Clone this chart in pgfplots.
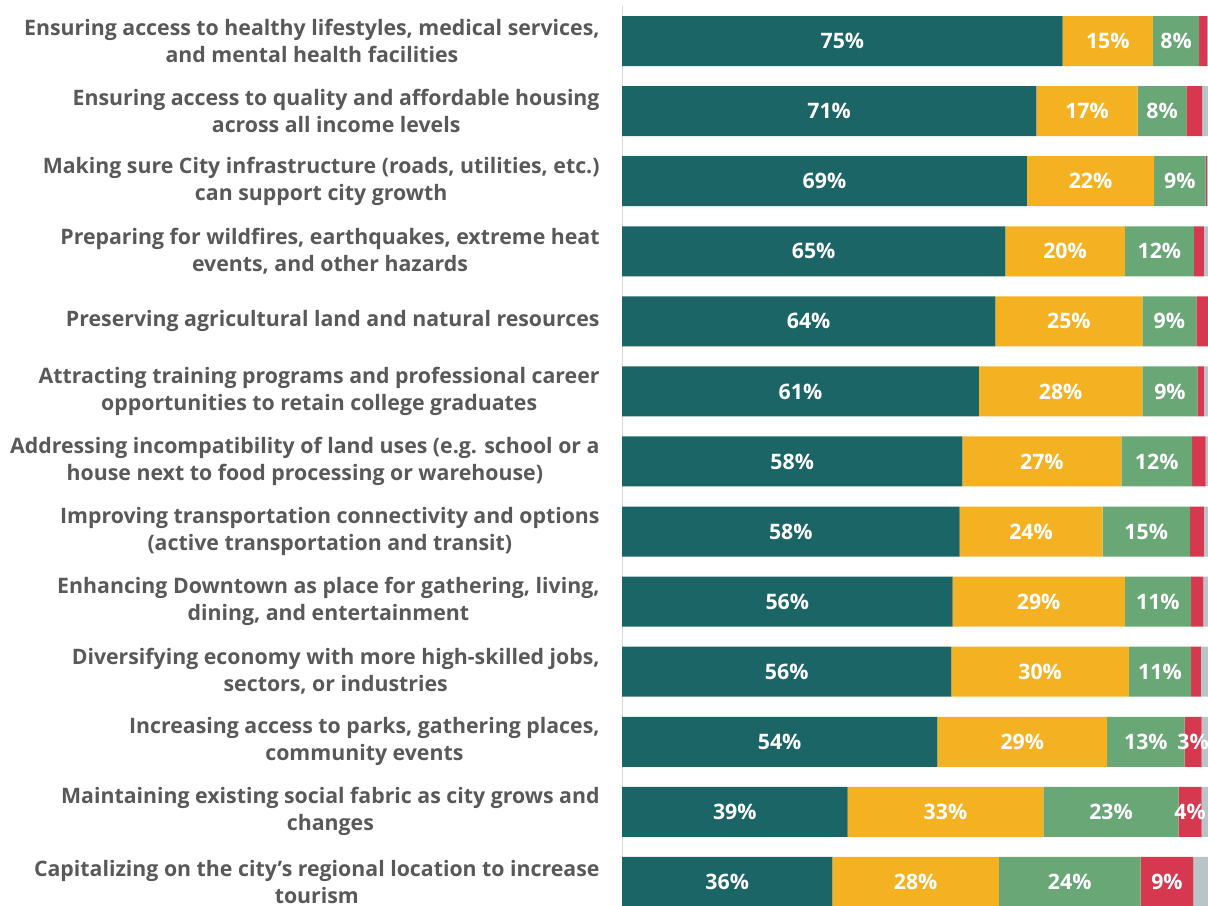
\documentclass[border=0pt]{standalone}
\usepackage{fontspec}
\setmainfont{Open Sans}
\usepackage{pgfplots}
\pgfplotsset{compat=1.18}
\definecolor{cteal}{HTML}{1B6566}
\definecolor{cyellow}{HTML}{F4B223}
\definecolor{cgreen}{HTML}{69A776}
\definecolor{cred}{HTML}{D6384F}
\definecolor{cgray}{HTML}{B8C4C8}
\definecolor{labgray}{HTML}{595959}
\definecolor{axgray}{HTML}{D9D9D9}
\pgfplotsset{geom/.style={
  at={(311pt,0pt)}, anchor=south west,
  scale only axis, width=293pt, height=449.5pt,
  xmin=0, xmax=100, ymin=0.5, ymax=13.33, y dir=reverse}}
\begin{document}
\begin{tikzpicture}
\begin{axis}[
  geom,
  xbar stacked, bar width=25pt,
  axis line style={draw=none},
  xtick=\empty,
  ytick={1,...,13},
  major tick length=0pt,
  tick style={draw=none},
  yticklabel style={align=center, anchor=east, inner sep=0pt, xshift=-11pt,
    font=\bfseries\fontsize{10.65}{13.5}\selectfont, text=labgray},
  yticklabels={
    {Ensuring access to healthy lifestyles, medical services,\\and mental health facilities},
    {Ensuring access to quality and affordable housing\\across all income levels},
    {Making sure City infrastructure (roads, utilities, etc.)\\can support city growth},
    {Preparing for wildfires, earthquakes, extreme heat\\events, and other hazards},
    {Preserving agricultural land and natural resources},
    {Attracting training programs and professional career\\opportunities to retain college graduates},
    {Addressing incompatibility of land uses (e.g. school or a\\house next to food processing or warehouse)},
    {Improving transportation connectivity and options\\(active transportation and transit)},
    {Enhancing Downtown as place for gathering, living,\\dining, and entertainment},
    {Diversifying economy with more high-skilled jobs,\\sectors, or industries},
    {Increasing access to parks, gathering places,\\community events},
    {Maintaining existing social fabric as city grows and\\changes},
    {Capitalizing on the city’s regional location to increase\\tourism}
  },
]
\addplot[fill=cteal, draw=none] coordinates {(75.2,1) (70.7,2) (69.1,3) (65.4,4) (63.7,5) (60.9,6) (58.1,7) (57.6,8) (56.4,9) (56.2,10) (53.8,11) (38.5,12) (35.9,13)};
\addplot[fill=cyellow, draw=none] coordinates {(15.4,1) (17.3,2) (21.7,3) (20.4,4) (25.1,5) (27.9,6) (27.1,7) (24.4,8) (29.4,9) (30.3,10) (29.0,11) (33.4,12) (28.4,13)};
\addplot[fill=cgreen, draw=none] coordinates {(7.9,1) (8.3,2) (8.8,3) (11.8,4) (9.2,5) (9.4,6) (12.1,7) (14.9,8) (11.3,9) (10.6,10) (13.2,11) (23.1,12) (24.2,13)};
\addplot[fill=cred, draw=none] coordinates {(1.4,1) (2.7,2) (0.2,3) (1.7,4) (2.0,5) (1.1,6) (2.3,7) (2.4,8) (2.1,9) (1.7,10) (2.9,11) (3.9,12) (9.0,13)};
\addplot[fill=cgray, draw=none] coordinates {(0.1,1) (1.0,2) (0.2,3) (0.7,4) (0.0,5) (0.7,6) (0.4,7) (0.7,8) (0.8,9) (1.2,10) (1.1,11) (1.1,12) (2.5,13)};
\draw[axgray, line width=1pt] (axis description cs:0,0) -- (axis description cs:0,1);
\end{axis}
\begin{axis}[geom, hide axis, clip=false]
\addplot[only marks, mark=none, nodes near coords, point meta=explicit symbolic,
  nodes near coords align={center},
  every node near coord/.append style={font=\bfseries\fontsize{10.65}{12}\selectfont, text=white, inner sep=0pt, anchor=center}]
  table[meta=lab] {
x y lab
37.6 1 75\%
82.9 1 15\%
94.55 1 8\%
35.35 2 71\%
79.35 2 17\%
92.15 2 8\%
34.55 3 69\%
79.95 3 22\%
95.2 3 9\%
32.7 4 65\%
75.6 4 20\%
91.7 4 12\%
31.85 5 64\%
76.25 5 25\%
93.4 5 9\%
30.45 6 61\%
74.85 6 28\%
93.5 6 9\%
29.05 7 58\%
71.65 7 27\%
91.25 7 12\%
28.8 8 58\%
69.8 8 24\%
89.45 8 15\%
28.2 9 56\%
71.1 9 29\%
91.45 9 11\%
28.1 10 56\%
71.35 10 30\%
91.8 10 11\%
26.9 11 54\%
68.3 11 29\%
89.4 11 13\%
97.45 11 3\%
19.25 12 39\%
55.2 12 33\%
83.45 12 23\%
96.95 12 4\%
17.95 13 36\%
50.1 13 28\%
76.4 13 24\%
93.0 13 9\%
};
\end{axis}
\pgfresetboundingbox
\useasboundingbox (0,0) rectangle (604pt,452.5pt);
\end{tikzpicture}
\end{document}
